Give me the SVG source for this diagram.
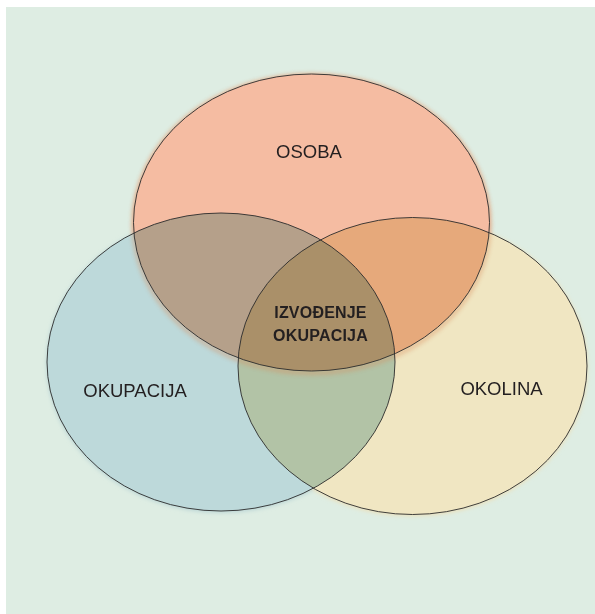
<svg xmlns="http://www.w3.org/2000/svg" width="595" height="614" viewBox="0 0 595 614">
<style>
.lbl{font-family:"Liberation Sans",Arial,sans-serif;font-size:18.5px;fill:#231f20;text-anchor:middle}
.ctr{font-family:"Liberation Sans",Arial,sans-serif;font-size:16px;font-weight:bold;fill:#231f20;text-anchor:middle;letter-spacing:0.2px}
.fill{mix-blend-mode:multiply}
.edge{fill:none;stroke:#2b2b2b;stroke-width:0.9}
</style>
<defs>
<filter id="glow" x="-10%" y="-10%" width="120%" height="120%">
<feGaussianBlur stdDeviation="2"/>
</filter>
<clipPath id="outsideTop">
<path clip-rule="evenodd" d="M0 0H595V614H0Z M133.5 222.5a178 148.5 0 1 0 356 0a178 148.5 0 1 0 -356 0Z"/>
</clipPath>
</defs>
<rect x="0" y="0" width="595" height="614" fill="#ffffff"/>
<rect x="6" y="7" width="589" height="607" fill="#deede3"/>
<ellipse cx="311.5" cy="224" rx="178.5" ry="149" fill="#f0b598" filter="url(#glow)"/>
<ellipse cx="221" cy="363" rx="174.5" ry="149.5" fill="#b8d3d4" filter="url(#glow)"/>
<ellipse cx="412.5" cy="367" rx="175" ry="149" fill="#ecdfb8" filter="url(#glow)"/>
<g style="isolation:isolate">
<ellipse class="fill" cx="311.5" cy="222.5" rx="178" ry="148.5" fill="#f5bca2"/>
<ellipse class="fill" cx="221" cy="362" rx="174" ry="149" fill="#bdd9da"/>
<ellipse class="fill" cx="412.5" cy="366" rx="174.5" ry="148.5" fill="#f0e6c2"/>
</g>
<g clip-path="url(#outsideTop)">
<ellipse cx="311.5" cy="224" rx="178" ry="149" fill="none" stroke="#d98a5a" stroke-width="4" opacity="0.45" filter="url(#glow)"/>
</g>
<g id="osoba">
<ellipse class="edge" cx="311.5" cy="222.5" rx="178" ry="148.5"/>
<text class="lbl" x="309" y="158">OSOBA</text>
</g>
<g id="okupacija">
<ellipse class="edge" cx="221" cy="362" rx="174" ry="149"/>
<text class="lbl" x="135" y="397">OKUPACIJA</text>
</g>
<g id="okolina">
<ellipse class="edge" cx="412.5" cy="366" rx="174.5" ry="148.5"/>
<text class="lbl" x="501.5" y="395">OKOLINA</text>
</g>
<g id="izvodjenje">
<text class="ctr" x="320.5" y="318">IZVOĐENJE</text>
<text class="ctr" x="320.5" y="341">OKUPACIJA</text>
</g>
<g id="connectors"></g>
</svg>
